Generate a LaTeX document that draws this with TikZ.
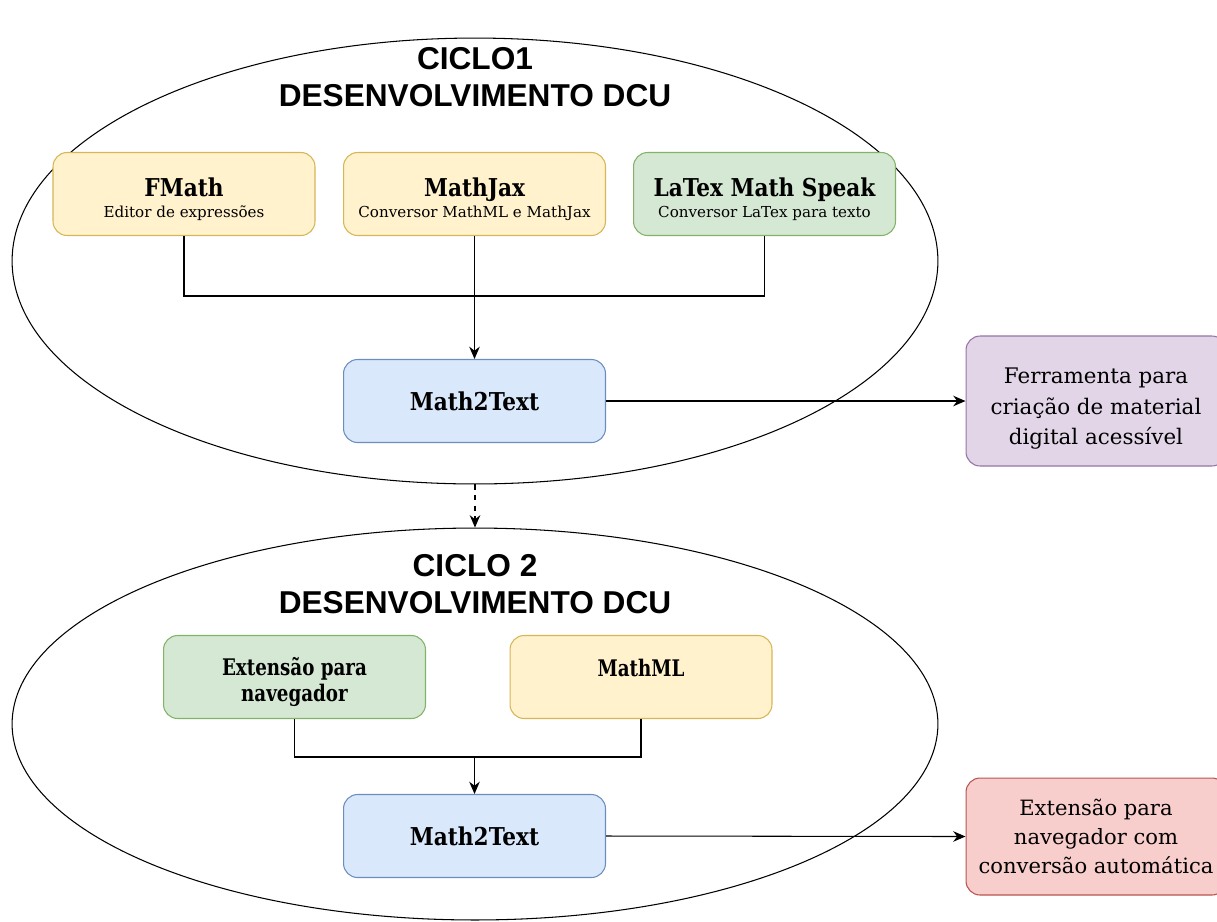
\documentclass[tikz,border=0pt]{standalone}
\usepackage{fontspec}
\setmainfont{DejaVu Serif}
\newfontfamily\headfont{Liberation Sans}
\newfontfamily\ttlfont[FakeStretch=0.88]{DejaVu Serif}
\newfontfamily\narrowfont[FakeStretch=0.8]{DejaVu Serif}
\usepackage{xcolor}
\usetikzlibrary{shapes,arrows,positioning,calc,arrows.meta}

\definecolor{ylwfill}{HTML}{FFF2CC}
\definecolor{ylwline}{HTML}{D6B656}
\definecolor{grnfill}{HTML}{D5E8D4}
\definecolor{grnline}{HTML}{82B366}
\definecolor{bluefill}{HTML}{DAE8FC}
\definecolor{blueline}{HTML}{6C8EBF}
\definecolor{purfill}{HTML}{E1D5E7}
\definecolor{purline}{HTML}{9673A6}
\definecolor{redfill}{HTML}{F8CECC}
\definecolor{redline}{HTML}{B85450}

\newcommand{\boxttl}[1]{{\ttlfont\bfseries\fontsize{14}{16}\selectfont #1}}
\newcommand{\boxsub}[1]{{\fontsize{8.6}{11}\selectfont #1}}

\tikzset{
    box/.style={draw, rounded corners=8pt, minimum width=5.24cm, minimum height=1.66cm,
        align=center, line width=0.6pt, inner sep=2pt},
    ylwbox/.style={box, fill=ylwfill, draw=ylwline},
    grnbox/.style={box, fill=grnfill, draw=grnline},
    bluebox/.style={box, fill=bluefill, draw=blueline},
    outbox/.style={box, minimum width=5.2cm, minimum height=2.6cm, font=\fontsize{12.2}{17.5}\selectfont},
    cycle/.style={draw, ellipse, line width=0.6pt, minimum width=18.52cm},
    heading/.style={font=\headfont\bfseries\fontsize{18}{21}\selectfont, align=center},
    ttl/.style={font=\ttlfont\bfseries\fontsize{14}{16}\selectfont},
    ttlnarrow/.style={font=\narrowfont\bfseries\fontsize{13}{14.7}\selectfont},
    link/.style={line width=0.6pt},
}

\begin{document}
\begin{tikzpicture}[x=0.02cm, y=-0.02cm, >={Stealth[length=7pt,width=6pt]}]
    \useasboundingbox (0,0) rectangle (1217,921);
    \clip (0,0) rectangle (1217,921);

    % ciclos
    \node[cycle, minimum height=8.92cm] (ciclo1) at (475,261) {};
    \node[cycle, minimum height=7.84cm] (ciclo2) at (475,724) {};
    \node[heading] (tit1) at (475,77) {CICLO1\\DESENVOLVIMENTO DCU};
    \node[heading] (tit2) at (475,584) {CICLO 2\\DESENVOLVIMENTO DCU};

    % ciclo 1
    \node[ylwbox] (fmath) at (184,194) {\mbox{}\\[4.8pt]\boxttl{FMath}\\\boxsub{Editor de expressões}};
    \node[ylwbox] (mathjax) at (474.5,194) {\mbox{}\\[4.8pt]\boxttl{MathJax}\\\boxsub{Conversor MathML e MathJax}};
    \node[grnbox] (speak) at (764.5,194) {\mbox{}\\[4.8pt]\boxttl{LaTex Math Speak}\\\boxsub{Conversor LaTex para texto}};
    \node[bluebox, ttl] (m2t1) at (474.5,401) {Math2Text};
    \node[outbox, fill=purfill, draw=purline] (ferr) at (1096,401) {\mbox{}\\Ferramenta para\\criação de material\\digital acessível};
    \coordinate (j1) at (474.5,296);

    \draw[link] (fmath.south) |- (j1) -| (speak.south);
    \draw[link,->] (mathjax.south) -- (m2t1.north);
    \draw[link,->] (m2t1.east) -- (ferr.west);

    \draw[link,->,dashed] (ciclo1.south) -- (ciclo2.north);

    % ciclo 2
    \node[grnbox, ttlnarrow] (ext) at (294.5,677) {\mbox{}\\[0.8pt]Extensão para\\navegador};
    \node[ylwbox, ttlnarrow, text depth=10pt] (mathml) at (641,677) {MathML};
    \node[bluebox, ttl] (m2t2) at (474.5,836) {Math2Text};
    \node[outbox, fill=redfill, draw=redline, minimum height=2.34cm,
        font=\fontsize{12}{16.5}\selectfont] (auto) at (1096,836.5) {Extensão para\\navegador com\\conversão automática};
    \coordinate (j2) at (474.5,757);

    \draw[link] (ext.south) |- (j2) -| (mathml.south);
    \draw[link,->] (j2) -- (m2t2.north);
    \draw[link,->] (m2t2.east) -- (auto.west);
\end{tikzpicture}
\end{document}
